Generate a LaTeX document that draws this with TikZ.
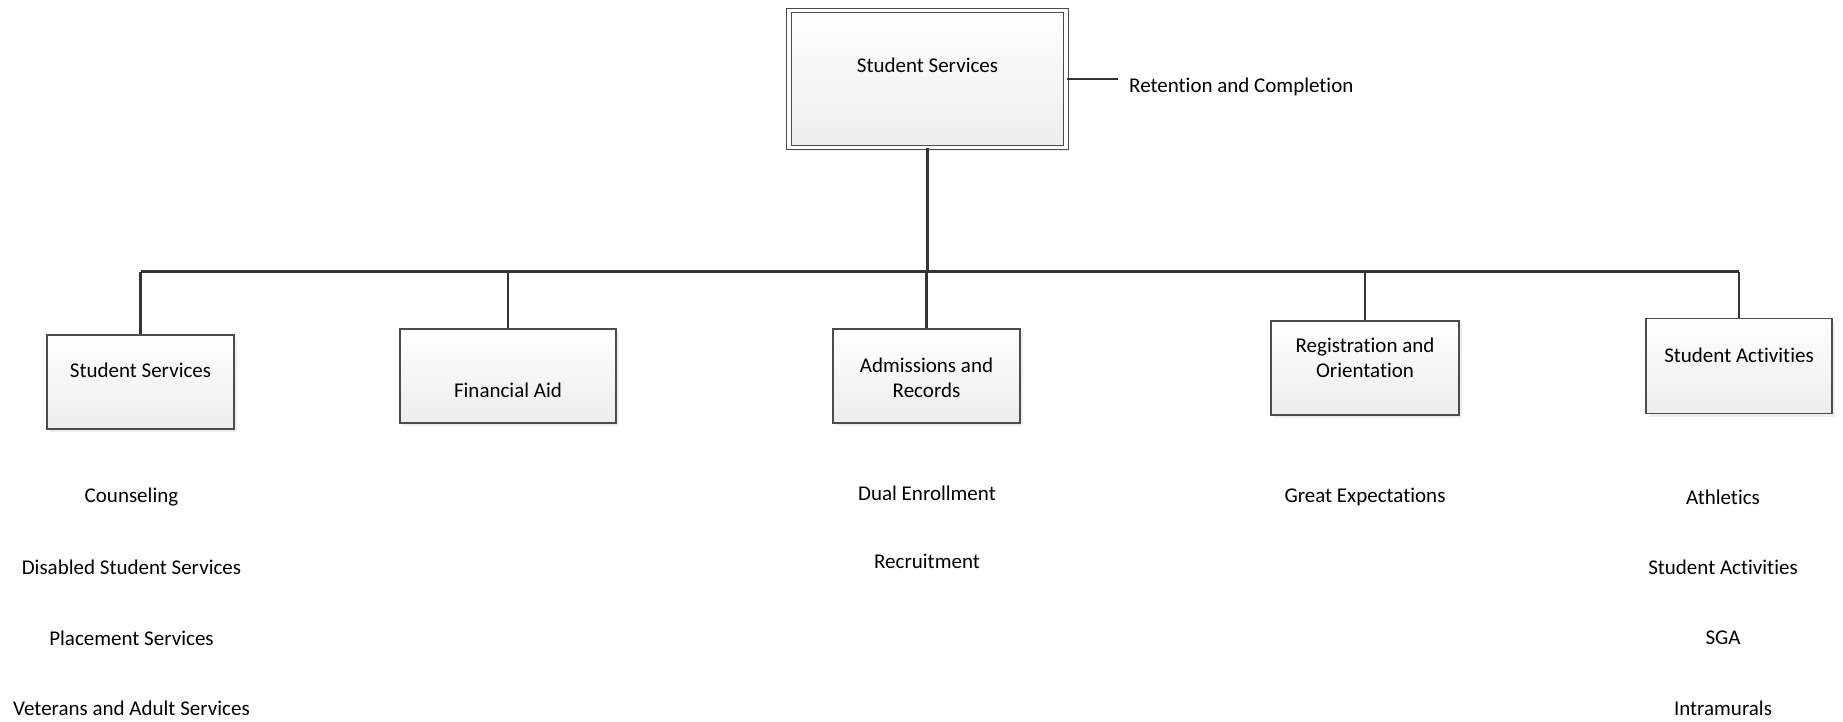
\documentclass[tikz,border=0pt]{standalone}
\usepackage{fontspec}
\setmainfont[Ligatures=NoCommon]{Carlito}
\usetikzlibrary{positioning,shadows}
\tikzset{
  org/box/.style={draw=black!70, line width=1.4pt, top color=white, bottom color=black!7,
    drop shadow={shadow xshift=3pt, shadow yshift=-3pt, fill=black!12},
    minimum width=187pt, minimum height=94pt, inner sep=0pt},
  org/head/.style={org/box, double, double distance=3.2pt, line width=1.3pt},
  org/text/.style={font=\fontsize{21}{25}\selectfont, align=center, inner sep=0pt},
  org/item/.style={org/text},
  org/line/.style={draw=black!80, line width=2.4pt}
}
\begin{document}
\begin{tikzpicture}[x=1pt, y=-1pt]
  \useasboundingbox (0,0) rectangle (1843,721);

  % top unit
  \node[org/head, minimum width=277pt, minimum height=137pt,
    label={[org/text, yshift=13.5pt]center:Student Services}] (head) at (927.5,79) {};
  \node[org/text, anchor=west, inner xsep=11pt] (ret) at (1118,86.5) {Retention and Completion};
  \draw[org/line] (head.east) -- (head.east -| ret.west);

  % departments
  \node[org/box, label={[org/text, yshift=11.5pt]center:Student Services}] (ss) at (140.5,382) {};
  \node[org/box, minimum width=216pt, label={[org/text, yshift=-14.5pt]center:Financial Aid}] (fa) at (508,376) {};
  \node[org/box, label={[org/text, yshift=-1.5pt]center:Admissions and\\Records}] (ar) at (926.5,376) {};
  \node[org/box, minimum width=188pt, label={[org/text, yshift=10.5pt]center:Registration and\\Orientation}] (ro) at (1365,368) {};
  \node[org/box, minimum width=186pt, minimum height=95pt, label={[org/text, yshift=10.5pt]center:Student Activities}] (sa) at (1739,366) {};

  \coordinate (bus) at (927.5,271.5);
  \draw[org/line] (head.south) -- (bus);
  \draw[org/line] (bus -| ss.north) -- (bus -| sa.north);
  \foreach \n in {ss,fa,ar,ro,sa}
    \draw[org/line] (bus -| \n.north) -- (\n.north);

  % programs
  \node[org/item] (couns) at (131.5,497) {Counseling};
  \node[org/item] (dss) at (131.5,567) {Disabled Student Services};
  \node[org/item] (place) at (131.5,638) {Placement Services};
  \node[org/item] (vets) at (131.5,708) {Veterans and Adult Services};
  \node[org/item] (dual) at (927,493) {Dual Enrollment};
  \node[org/item] (recr) at (927,561.5) {Recruitment};
  \node[org/item] (great) at (1365,497) {Great Expectations};
  \node[org/item] (ath) at (1723,497) {Athletics};
  \node[org/item] (act) at (1723,567) {Student Activities};
  \node[org/item] (sga) at (1723,638) {SGA};
  \node[org/item] (intra) at (1723,708) {Intramurals};
\end{tikzpicture}
\end{document}
